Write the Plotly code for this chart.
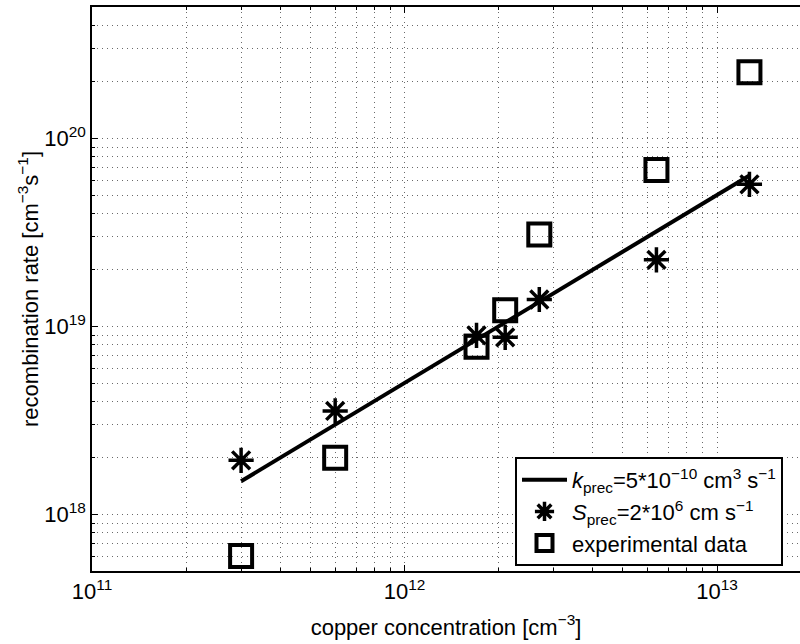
import numpy as np
import plotly.graph_objects as go

# ---- data ----
cu_conc = [3e11, 6e11, 1.7e12, 2.1e12, 2.7e12, 6.4e12, 1.27e13]
exp_rate = [6.0e17, 2.0e18, 7.8e18, 1.22e19, 3.08e19, 6.8e19, 2.25e20]
sprec_rate = [1.94e18, 3.55e18, 8.95e18, 8.75e18, 1.39e19, 2.26e19, 5.7e19]
k_line_x = [3e11, 1.27e13]
k_line_y = [1.5e18, 6.35e19]

x_tickvals = [1e11, 1e12, 1e13]
x_ticktext = ["10<sup>11</sup>", "10<sup>12</sup>", "10<sup>13</sup>"]
y_tickvals = [1e18, 1e19, 1e20]
y_ticktext = ["10<sup>18</sup>", "10<sup>19</sup>", "10<sup>20</sup>"]

x_minor = [m * 10.0 ** e for e in (11, 12, 13) for m in range(2, 10)]
y_minor = [m * 10.0 ** e for e in (17, 18, 19, 20) for m in range(2, 10)]

FONT = "Liberation Sans, Arial, Helvetica, sans-serif"
GRIDC = "#6a6a6a"
DASH = "1px,4px"

fig = go.Figure()
fig.add_trace(go.Scatter(
    x=k_line_x, y=k_line_y, mode="lines",
    line=dict(color="black", width=4),
    name="<i>k</i><sub>prec</sub>=5*10<sup>\u221210</sup> cm<sup>3</sup> s<sup>\u22121</sup>",
))
fig.add_trace(go.Scatter(
    x=cu_conc, y=sprec_rate, mode="markers",
    marker=dict(symbol="asterisk-open", size=21, color="black",
                line=dict(color="black", width=3.5)),
    name="<i>S</i><sub>prec</sub>=2*10<sup>6</sup> cm s<sup>\u22121</sup>",
))
fig.add_trace(go.Scatter(
    x=cu_conc, y=exp_rate, mode="markers",
    marker=dict(symbol="square-open", size=22, color="black",
                line=dict(color="black", width=4)),
    name="experimental data",
))

common = dict(
    type="log", showline=True, linecolor="black", linewidth=1.5,
    ticks="inside", ticklen=6, tickwidth=1, tickcolor="black",
    showgrid=True, gridcolor=GRIDC, gridwidth=1, griddash=DASH,
    zeroline=False, tickfont=dict(family=FONT, size=22, color="black"),
    tickmode="array",
)

fig.update_xaxes(
    **common,
    range=[11, 11 + 708 / 312.5],
    tickvals=x_tickvals, ticktext=x_ticktext,
    mirror="allticks",
    minor=dict(tickmode="array", tickvals=x_minor, ticks="inside", ticklen=3,
               tickcolor="black", showgrid=True, gridcolor=GRIDC,
               griddash=DASH, gridwidth=1),
    title=dict(text="copper concentration [cm<sup>\u22123</sup>]",
               font=dict(family=FONT, size=22, color="black"), standoff=16),
)
fig.update_yaxes(
    **common,
    range=[np.log10(5e17), np.log10(5e20)],
    tickvals=y_tickvals, ticktext=y_ticktext,
    mirror=False,
    minor=dict(tickmode="array", tickvals=y_minor, ticks="inside", ticklen=3,
               tickcolor="black", showgrid=True, gridcolor=GRIDC,
               griddash=DASH, gridwidth=1),
    title=dict(text="recombination rate [cm<sup>\u22123</sup>s<sup>\u22121</sup>]",
               font=dict(family=FONT, size=22, color="black"), standoff=0),
)

fig.update_layout(
    width=800, height=644,
    margin=dict(l=92, r=0, t=7, b=73, autoexpand=False),
    paper_bgcolor="white", plot_bgcolor="white",
    font=dict(family=FONT, size=22, color="black"),
    showlegend=True,
    legend=dict(
        x=(515 - 92) / 708, y=(571 - 457) / 564, xanchor="left", yanchor="top",
        bgcolor="white", bordercolor="black", borderwidth=2,
        font=dict(family=FONT, size=22, color="black"),
        itemwidth=45, tracegroupgap=0,
    ),
)

fig.write_html("out.html")
